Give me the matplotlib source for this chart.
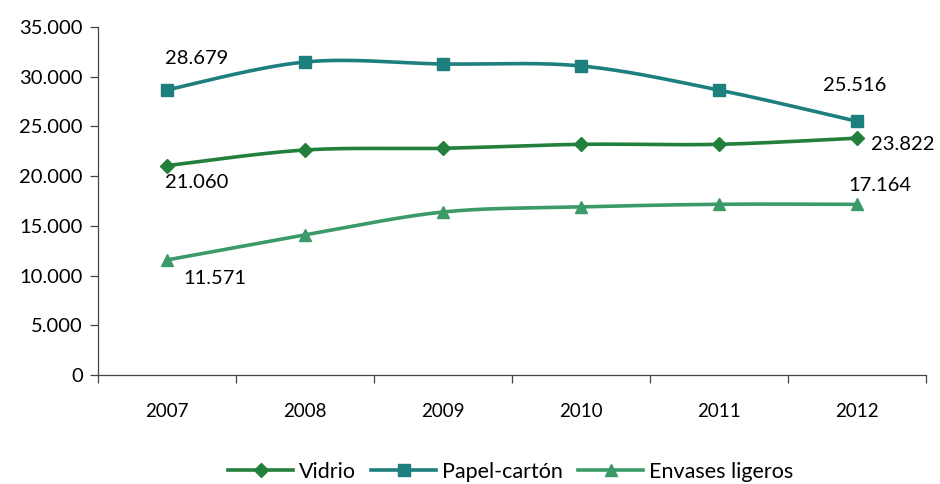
import numpy as np
import matplotlib
matplotlib.use("Agg")
import matplotlib.pyplot as plt
from matplotlib.ticker import FuncFormatter, FixedLocator

years = ["2007", "2008", "2009", "2010", "2011", "2012"]
vidrio = [21060, 22630, 22800, 23200, 23200, 23822]
papel = [28679, 31480, 31280, 31080, 28660, 25516]
envases = [11571, 14080, 16390, 16900, 17170, 17164]
series_names = ["Vidrio", "Papel-cartón", "Envases ligeros"]
colors = ["#23803c", "#1e7f7f", "#3c9a68"]
markers = ["D", "s", "^"]

plt.rcParams['font.family'] = ['Lato', 'DejaVu Sans']


def smooth(xs, ys, n=30):
    # Excel-like smoothing: cubic Bezier with Catmull-Rom control points
    xs = np.asarray(xs, float)
    ys = np.asarray(ys, float)
    px = np.concatenate([[xs[0]], xs, [xs[-1]]])
    py = np.concatenate([[ys[0]], ys, [ys[-1]]])
    ox, oy = [], []
    t = np.linspace(0, 1, n)
    for i in range(1, len(px) - 2):
        p0 = np.array([px[i], py[i]])
        p3 = np.array([px[i + 1], py[i + 1]])
        c1 = p0 + (np.array([px[i + 1], py[i + 1]]) - np.array([px[i - 1], py[i - 1]])) / 6
        c2 = p3 - (np.array([px[i + 2], py[i + 2]]) - np.array([px[i], py[i]])) / 6
        b = ((1 - t) ** 3)[:, None] * p0 + (3 * (1 - t) ** 2 * t)[:, None] * c1 \
            + (3 * (1 - t) * t ** 2)[:, None] * c2 + (t ** 3)[:, None] * p3
        ox.extend(b[:, 0]); oy.extend(b[:, 1])
    return ox, oy


fig = plt.figure(figsize=(9.4, 4.84), dpi=100)
ax = fig.add_axes([98 / 940, 109 / 484, 828 / 940, 348 / 484])

x = np.arange(len(years))
handles = []
for ys, name, c, m in zip([vidrio, papel, envases], series_names, colors, markers):
    sx, sy = smooth(x, ys)
    ax.plot(sx, sy, color=c, lw=2.6, solid_capstyle='round', zorder=2)
    ax.plot(x, ys, linestyle='none', marker=m, color=c,
            markersize=8 if m != 'D' else 7, zorder=3)
    h, = ax.plot([], [], color=c, lw=2.6, marker=m, markersize=8 if m != 'D' else 7)
    handles.append(h)

fmt = lambda v: f"{v:,.0f}".replace(",", ".")
lab_kw = dict(fontsize=14.5, color='black')
ax.annotate(fmt(papel[0]), (x[0], papel[0]), xytext=(30, 31), textcoords='offset pixels', ha='center', va='center', **lab_kw)
ax.annotate(fmt(vidrio[0]), (x[0], vidrio[0]), xytext=(30, -17), textcoords='offset pixels', ha='center', va='center', **lab_kw)
ax.annotate(fmt(envases[0]), (x[0], envases[0]), xytext=(48, -19), textcoords='offset pixels', ha='center', va='center', **lab_kw)
ax.annotate(fmt(papel[-1]), (x[-1], papel[-1]), xytext=(-2, 36), textcoords='offset pixels', ha='center', va='center', **lab_kw)
ax.annotate(fmt(vidrio[-1]), (x[-1], vidrio[-1]), xytext=(46, -6), textcoords='offset pixels', ha='center', va='center', **lab_kw)
ax.annotate(fmt(envases[-1]), (x[-1], envases[-1]), xytext=(23, 19), textcoords='offset pixels', ha='center', va='center', **lab_kw)

ax.set_xlim(-0.5, len(years) - 0.5)
ax.set_ylim(0, 35000)
ax.set_yticks(np.arange(0, 35001, 5000))
ax.yaxis.set_major_formatter(FuncFormatter(lambda v, p: fmt(v)))
ax.set_xticks(x)
ax.set_xticklabels(years)
ax.xaxis.set_minor_locator(FixedLocator(np.arange(-0.5, len(years), 1.0)))
ax.tick_params(axis='x', which='major', length=0, pad=20, labelsize=13.5)
ax.tick_params(axis='x', which='minor', length=6, width=0.9, direction='out', color='#444444')
ax.tick_params(axis='y', length=6, width=0.9, direction='out', labelsize=14.5, pad=5, color='#444444')
for s in ['top', 'right']:
    ax.spines[s].set_visible(False)
for s in ['left', 'bottom']:
    ax.spines[s].set_color('#444444')
    ax.spines[s].set_linewidth(0.9)

fig.legend(handles, series_names, loc='center', bbox_to_anchor=(511 / 940, 1 - 472 / 484),
           ncol=3, frameon=False, fontsize=15.5, handlelength=3.0, handletextpad=0.3,
           columnspacing=0.7)

fig.savefig("out.png", dpi=100)
